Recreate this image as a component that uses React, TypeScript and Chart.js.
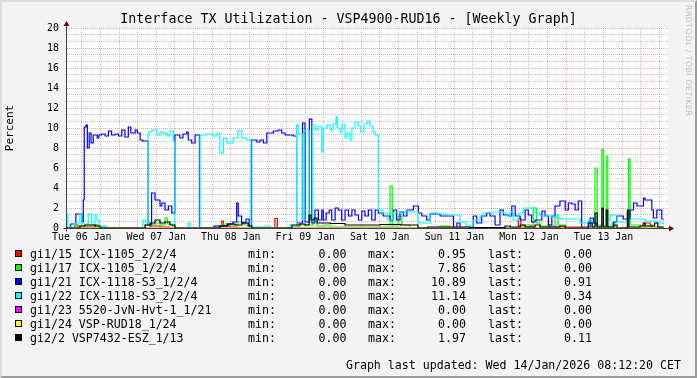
import React, { useEffect, useRef } from 'react';
import { Chart, registerables } from 'chart.js';

Chart.register(...registerables);

// ---- data (time in hours since Tue 06 Jan 00:00) ----
const dayLabels = ['Tue 06 Jan', 'Wed 07 Jan', 'Thu 08 Jan', 'Fri 09 Jan', 'Sat 10 Jan', 'Sun 11 Jan', 'Mon 12 Jan', 'Tue 13 Jan'];
const yTickLabels = ['0', '2', '4', '6', '8', '10', '12', '14', '16', '18', '20'];

const redHours = [7.2, 9.8, 10.8, 16.3, 17.2, 19.5, 34.0, 37.2, 40.0, 57.1, 57.6, 59.8, 62.0, 74.2, 75.0, 80.7, 82.3, 152.6, 153.4, 156.4, 157.5, 162.3, 162.8, 179.0, 180.0, 193.4, 195.1, 195.7, 199.3];
const redValues = [0, 0.3, 0.1, 0.3, 0.1, 0, 0.2, 0.1, 0, 0.7, 0.2, 0.1, 0, 0.95, 0, 0.1, 0, 0.95, 0.1, 0.2, 0, 0.3, 0.1, 0.2, 0, 0.5, 0.3, 0, 0];

const greenHours = [7.2, 9.8, 14.7, 17.2, 19.5, 32.4, 35.6, 37.2, 38.8, 39.6, 41.1, 42.0, 54.9, 57.2, 59.8, 62.3, 64.3, 66.2, 81.3, 86.5, 87.8, 90.4, 92.0, 111.3, 112.0, 113.9, 115.1, 117.7, 127.4, 130.6, 153.2, 157.4, 158.5, 159.6, 164.4, 165.4, 167.7, 177.3, 178.0, 179.5, 180.0, 180.9, 181.4, 182.8, 183.8, 188.1, 188.6, 191.8, 195.1, 199.3];
const greenValues = [0, 0.2, 0.3, 0.1, 0, 0.3, 0.5, 0.3, 1.0, 0.4, 0.2, 0, 0.2, 0.4, 0.3, 0.6, 0.3, 0, 0.3, 0.8, 0.2, 0.3, 0.1, 4.2, 0.2, 1.2, 0.3, 0, 0.2, 0, 0.3, 2.0, 0.5, 0.2, 1.3, 0.3, 0, 6.0, 0.3, 7.86, 0.2, 7.2, 0.2, 0.5, 0, 6.9, 0.3, 0.2, 0.1, 0];

const blueHours = [7.2, 8.4, 10.1, 12.0, 12.5, 12.8, 13.4, 13.8, 14.4, 15.0, 15.7, 17.0, 17.5, 18.4, 19.5, 20.6, 21.6, 22.7, 23.8, 24.9, 25.9, 27.0, 27.8, 29.2, 29.9, 30.8, 31.6, 33.4, 34.5, 35.6, 37.2, 37.8, 38.8, 39.9, 41.0, 42.0, 43.6, 44.6, 45.8, 46.3, 47.4, 48.5, 49.9, 54.6, 58.8, 60.7, 61.9, 62.4, 63.5, 64.9, 65.9, 66.7, 68.4, 69.4, 70.5, 71.6, 73.7, 75.3, 76.4, 77.5, 80.1, 81.2, 83.1, 83.9, 85.3, 86.1, 87.1, 88.2, 89.3, 89.8, 90.7, 91.7, 92.5, 93.6, 94.6, 95.7, 96.8, 97.9, 99.0, 100.0, 101.1, 102.2, 103.2, 104.3, 105.4, 106.5, 107.5, 109.1, 111.3, 112.4, 113.4, 114.5, 115.6, 116.7, 118.8, 120.4, 121.5, 123.1, 124.2, 127.4, 131.7, 132.8, 133.8, 138.1, 139.2, 140.8, 142.4, 143.5, 145.1, 146.7, 147.8, 149.4, 150.5, 151.6, 153.2, 154.8, 155.8, 156.9, 158.0, 160.2, 161.2, 162.3, 163.4, 164.4, 166.0, 167.7, 168.7, 169.8, 170.9, 171.9, 173.0, 175.7, 176.8, 177.9, 183.2, 184.3, 186.4, 188.6, 189.7, 190.8, 192.9, 193.4, 195.6, 196.1, 197.2, 198.8, 199.3];
const blueValues = [0, 0.4, 1.4, 0.6, 2.8, 10.1, 10.3, 8.0, 9.5, 8.5, 9.3, 9.0, 9.3, 9.4, 9.2, 9.7, 9.3, 9.4, 9.2, 9.8, 9.1, 10.1, 9.5, 9.8, 9.5, 8.8, 8.7, 0.3, 3.5, 2.8, 2.2, 2.5, 1.8, 2.2, 1.5, 9.3, 9.0, 9.4, 9.6, 8.8, 8.5, 9.3, 0, 0.2, 0.4, 0.6, 2.5, 1.2, 0.5, 0.9, 0.2, 8.8, 8.6, 8.8, 8.5, 9.5, 9.7, 9.8, 9.5, 9.3, 9.2, 0.5, 10.5, 0.6, 10.89, 0.5, 1.8, 0.8, 1.8, 0.8, 1.5, 1.8, 0.8, 2.0, 1.8, 0.8, 1.8, 1.2, 1.8, 1.3, 0.8, 1.7, 1.2, 1.8, 0.8, 1.8, 1.5, 1.2, 0.8, 1.8, 0.8, 1.6, 1.2, 1.8, 2.2, 1.5, 1.2, 0.8, 1.4, 1.2, 0, 0.5, 0, 1.2, 0.5, 1.2, 1.5, 1.2, 0.3, 1.8, 1.3, 1.2, 2.2, 1.2, 0.8, 1.8, 1.3, 0.6, 0.8, 1.7, 1.2, 0.3, 1.2, 2.2, 2.7, 1.8, 2.5, 2.4, 1.8, 2.7, 0, 1.0, 0.5, 0, 0.6, 1.2, 0.9, 1.8, 2.5, 2.2, 3.0, 2.8, 1.8, 1.0, 1.8, 0.9, 0.91];

const cyanHours = [7.2, 7.5, 8.8, 9.8, 11.4, 12.0, 14.1, 15.2, 16.3, 16.9, 17.6, 18.8, 19.8, 31.7, 32.7, 33.4, 34.6, 36.1, 37.2, 38.3, 39.4, 40.4, 41.5, 42.0, 46.3, 46.9, 50.1, 52.0, 54.3, 55.6, 56.5, 57.6, 58.8, 60.8, 62.3, 63.6, 65.1, 66.5, 71.0, 72.6, 79.1, 80.1, 81.2, 81.7, 83.0, 83.6, 85.2, 86.3, 87.1, 88.1, 89.3, 89.8, 91.0, 92.0, 92.9, 93.9, 94.3, 95.2, 95.8, 96.8, 97.4, 98.4, 99.0, 100.0, 101.0, 101.9, 102.9, 103.9, 104.8, 105.8, 106.5, 107.5, 109.0, 110.6, 112.3, 114.5, 116.1, 117.7, 120.3, 124.2, 126.3, 129.6, 133.8, 135.8, 138.0, 140.3, 141.3, 144.5, 147.8, 148.9, 150.0, 151.0, 152.6, 154.2, 158.0, 159.6, 165.0, 166.6, 172.5, 175.1, 176.2, 179.9, 182.2, 184.4, 188.6, 193.4, 197.2, 199.3];
const cyanValues = [1.4, 0.1, 0.3, 0.5, 1.4, 0.4, 1.4, 0.5, 1.3, 0.8, 0.1, 0.2, 0, 0.8, 0.3, 9.6, 9.8, 9.3, 9.6, 9.5, 9.2, 9.7, 8.7, 0, 0.5, 0, 9.3, 9.4, 9.2, 9.5, 7.5, 9.0, 8.5, 9.0, 9.8, 9.0, 8.8, 0.1, 0.2, 0, 0.3, 0.1, 10.3, 9.4, 0.8, 9.8, 0.8, 10.3, 9.8, 10.2, 7.6, 10.0, 10.3, 9.8, 10.4, 11.14, 10.0, 9.6, 10.4, 9.0, 9.5, 8.8, 10.0, 10.6, 10.2, 9.6, 10.4, 10.7, 10.2, 9.6, 9.3, 1.8, 1.5, 0.8, 1.6, 1.5, 1.7, 1.6, 0.5, 1.5, 1.4, 1.3, 0.6, 0.2, 0.8, 1.2, 1.5, 1.6, 1.5, 1.2, 1.6, 0.8, 1.5, 2.0, 1.5, 1.2, 1.0, 0.9, 0.5, 0.8, 0.1, 0.8, 1.3, 0.6, 0.9, 0.7, 0.5, 0.34];

const magentaHours = [7.2, 199.3];
const magentaValues = [0, 0];

const yellowHours = [7.2, 199.3];
const yellowValues = [0, 0];

const blackHours = [7.2, 11.4, 13.0, 16.3, 17.9, 32.4, 34.0, 35.6, 37.2, 38.8, 40.4, 42.0, 56.5, 59.1, 61.4, 63.6, 65.6, 66.8, 79.7, 82.3, 83.9, 85.2, 85.8, 86.8, 87.8, 92.0, 96.8, 108.1, 114.6, 120.3, 123.5, 137.1, 148.3, 150.0, 153.2, 154.8, 158.0, 159.6, 166.0, 167.7, 175.1, 176.4, 177.3, 178.0, 179.5, 180.0, 180.9, 181.4, 183.4, 184.4, 187.7, 188.2, 191.8, 192.8, 193.4, 196.5, 197.5, 199.3];
const blackValues = [0, 0.2, 0.3, 0.2, 0, 0.3, 0.5, 0.8, 0.5, 0.6, 0.3, 0, 0.2, 0.4, 0.3, 0.5, 0.2, 0, 0.3, 0.4, 0.3, 1.3, 0.8, 1.0, 0.5, 0.45, 0.3, 0.35, 0.3, 0, 0.1, 0.05, 0.2, 0.1, 0.3, 0.1, 0.3, 0.1, 0.2, 0, 0.5, 0.1, 1.5, 0.1, 1.97, 0.1, 1.8, 0.1, 0.3, 0, 1.8, 0.1, 0.2, 0.5, 0.2, 0.5, 0.1, 0.11];

const seriesNames = ['gi1/15 ICX-1105_2/2/4', 'gi1/17 ICX-1105_1/2/4', 'gi1/21 ICX-1118-S3_1/2/4', 'gi1/22 ICX-1118-S3_2/2/4', 'gi1/23 5520-JvN-Hvt-1_1/21', 'gi1/24 VSP-RUD18_1/24', 'gi2/2 VSP7432-ESZ_1/13'];
const minVals = ['0.00', '0.00', '0.00', '0.00', '0.00', '0.00', '0.00'];
const maxVals = ['0.95', '7.86', '10.89', '11.14', '0.00', '0.00', '1.97'];
const lastVals = ['0.00', '0.00', '0.91', '0.34', '0.00', '0.00', '0.11'];

const titleText = 'Interface TX Utilization - VSP4900-RUD16 - [Weekly Graph]';
const footerText = 'Graph last updated: Wed 14/Jan/2026 08:12:20 CET';

// ---- styles ----
const seriesColors = ['#FF0000', '#00FF00', '#0000FF', '#00FFFF', '#FF00FF', '#FFFF00', '#000000'];
const MONO = '"DejaVu Sans Mono", monospace';
const MAJOR = 'rgba(255, 90, 90, 0.55)';
const MINOR = 'rgba(150, 150, 150, 0.6)';

const seriesData = [
  [redHours, redValues],
  [greenHours, greenValues],
  [blueHours, blueValues],
  [cyanHours, cyanValues],
  [magentaHours, magentaValues],
  [yellowHours, yellowValues],
  [blackHours, blackValues],
];

const bgPlugin = {
  id: 'canvasBg',
  beforeDraw(chart: any) {
    const { ctx, chartArea: a } = chart;
    ctx.save();
    ctx.fillStyle = '#FFFFFF';
    ctx.fillRect(a.left, a.top, a.right - a.left, a.bottom - a.top);
    ctx.restore();
  },
};

const axisPlugin = {
  id: 'rrdAxes',
  beforeDatasetsDraw(chart: any) {
    const { ctx, chartArea: a } = chart;
    const ax = Math.round(a.left) - 0.5;
    const ay = Math.round(a.bottom) + 0.5;
    ctx.save();
    ctx.strokeStyle = '#404040';
    ctx.lineWidth = 1;
    ctx.beginPath();
    ctx.moveTo(ax, ay + 3);
    ctx.lineTo(ax, a.top - 3);
    ctx.moveTo(ax - 3, ay);
    ctx.lineTo(a.right + 2, ay);
    ctx.stroke();
    ctx.fillStyle = '#800000';
    ctx.beginPath();
    ctx.moveTo(ax, a.top - 7);
    ctx.lineTo(ax - 3, a.top - 2);
    ctx.lineTo(ax + 3, a.top - 2);
    ctx.closePath();
    ctx.fill();
    ctx.beginPath();
    ctx.moveTo(a.right + 6, ay);
    ctx.lineTo(a.right + 1, ay - 3);
    ctx.lineTo(a.right + 1, ay + 3);
    ctx.closePath();
    ctx.fill();
    ctx.restore();
  },
};

export default function App() {
  const ref = useRef<HTMLCanvasElement>(null);

  useEffect(() => {
    if (!ref.current) return;
    const datasets = seriesData.map(([hours, values], i) => ({
      label: seriesNames[i],
      data: hours.map((h, k) => ({ x: h, y: values[k] })),
      borderColor: seriesColors[i],
      backgroundColor: seriesColors[i],
      borderWidth: 1.2,
      pointRadius: 0,
      stepped: 'before' as const,
      fill: false,
      order: 6 - i,
      borderJoinStyle: 'miter' as const,
    }));
    const chart = new Chart(ref.current, {
      type: 'line',
      data: { datasets },
      options: {
        responsive: false,
        animation: false,
        devicePixelRatio: 1,
        layout: { padding: { left: 0, right: 29, top: 28, bottom: 0 } },
        plugins: {
          legend: { display: false },
          tooltip: { enabled: false },
          title: { display: false },
        },
        scales: {
          x: {
            type: 'linear',
            min: 7.25,
            max: 200.8,
            afterBuildTicks: (s: any) => {
              const t: any[] = [];
              for (let v = 12; v <= 198; v += 6) t.push({ value: v });
              s.ticks = t;
            },
            afterFit: (s: any) => {
              s.height = 150;
            },
            grid: {
              color: (c: any) => (c.tick && c.tick.value % 24 === 0 ? MAJOR : MINOR),
              lineWidth: 1,
              drawTicks: false,
            },
            border: { display: false, dash: [1, 1] },
            ticks: {
              autoSkip: false,
              maxRotation: 0,
              minRotation: 0,
              padding: 3,
              color: '#000',
              font: { family: MONO, size: 9.9 },
              callback: (v: any) => (v % 24 === 12 ? dayLabels[(v - 12) / 24] : ''),
            },
          },
          y: {
            type: 'linear',
            min: 0,
            max: 20,
            afterBuildTicks: (s: any) => {
              const t: any[] = [];
              for (let i = 0; i <= 30; i++) t.push({ value: (i * 2) / 3 });
              s.ticks = t;
            },
            afterFit: (s: any) => {
              s.width = 67;
            },
            grid: {
              color: (c: any) => (c.index % 3 === 0 ? MAJOR : MINOR),
              lineWidth: 1,
              drawTicks: false,
            },
            border: { display: false, dash: [1, 1] },
            ticks: {
              autoSkip: false,
              padding: 8,
              color: '#000',
              font: { family: MONO, size: 9.9 },
              callback: (_v: any, i: number) => (i % 3 === 0 ? yTickLabels[i / 3] : ''),
            },
            title: {
              display: true,
              text: 'Percent',
              color: '#000',
              font: { family: MONO, size: 11 },
              padding: { top: 4, bottom: 0 },
            },
          },
        },
      },
      plugins: [bgPlugin, axisPlugin],
    } as any);
    return () => chart.destroy();
  }, []);

  const rowTop = (i: number) => 246.5 + i * 14;
  const txt: React.CSSProperties = {
    position: 'absolute',
    fontFamily: MONO,
    fontSize: 11.6,
    lineHeight: '14px',
    color: '#000',
    whiteSpace: 'pre',
  };

  return (
    <div
      style={{
        position: 'absolute',
        left: 0,
        top: 0,
        width: 697,
        height: 378,
        background: '#F3F3F3',
        overflow: 'hidden',
      }}
    >
      <canvas ref={ref} width={697} height={378} style={{ position: 'absolute', left: 0, top: 0, width: 697, height: 378 }} />
      <div
        style={{
          position: 'absolute',
          left: 0,
          top: 11,
          width: 697,
          textAlign: 'center',
          fontFamily: MONO,
          fontSize: 13.3,
          lineHeight: '16px',
          color: '#000',
          whiteSpace: 'pre',
        }}
      >
        {titleText}
      </div>
      <div
        style={{
          position: 'absolute',
          left: 684,
          top: 5,
          writingMode: 'vertical-rl',
          fontFamily: '"DejaVu Sans", sans-serif',
          fontSize: 7.8,
          lineHeight: '9px',
          letterSpacing: 0.5,
          color: '#bdbdbd',
          whiteSpace: 'pre',
        }}
      >
        RRDTOOL / TOBI OETIKER
      </div>
      {seriesNames.map((name, i) => (
        <React.Fragment key={name}>
          <div
            style={{
              position: 'absolute',
              left: 15,
              top: rowTop(i) + 3,
              width: 7,
              height: 7,
              boxSizing: 'border-box',
              border: '1px solid #000',
              background: seriesColors[i],
            }}
          />
          <div style={{ ...txt, left: 30, top: rowTop(i) }}>{name}</div>
          <div style={{ ...txt, left: 248, top: rowTop(i) }}>min:</div>
          <div style={{ ...txt, right: 697 - 346.5, top: rowTop(i), textAlign: 'right' }}>{minVals[i]}</div>
          <div style={{ ...txt, left: 368, top: rowTop(i) }}>max:</div>
          <div style={{ ...txt, right: 697 - 466, top: rowTop(i), textAlign: 'right' }}>{maxVals[i]}</div>
          <div style={{ ...txt, left: 488, top: rowTop(i) }}>last:</div>
          <div style={{ ...txt, right: 697 - 592, top: rowTop(i), textAlign: 'right' }}>{lastVals[i]}</div>
        </React.Fragment>
      ))}
      <div style={{ ...txt, right: 16, top: 357.5, textAlign: 'right' }}>{footerText}</div>
      <div
        style={{
          position: 'absolute',
          left: 0,
          top: 0,
          width: 697,
          height: 378,
          boxSizing: 'border-box',
          borderStyle: 'solid',
          borderWidth: 2,
          borderColor: '#DDDDDD #9C9C9C #9C9C9C #DDDDDD',
          pointerEvents: 'none',
        }}
      />
    </div>
  );
}
